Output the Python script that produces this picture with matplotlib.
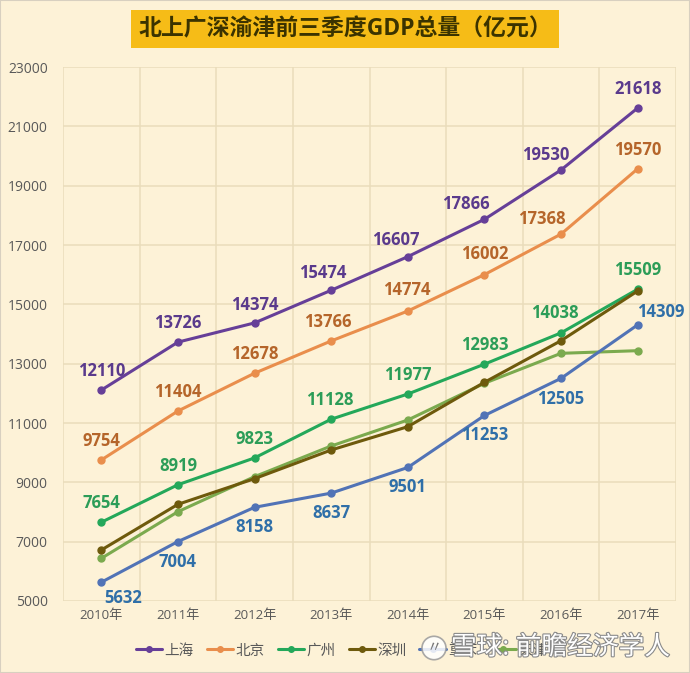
import matplotlib
matplotlib.use("Agg")
import matplotlib.pyplot as plt
import matplotlib.patheffects as pe
from matplotlib.patches import Circle

plt.rcParams['font.family'] = ['Open Sans', 'Noto Sans CJK SC', 'DejaVu Sans']

title = "北上广深渝津前三季度GDP总量（亿元）"
years = ["2010年", "2011年", "2012年", "2013年", "2014年", "2015年", "2016年", "2017年"]
shanghai = [12110, 13726, 14374, 15474, 16607, 17866, 19530, 21618]
beijing = [9754, 11404, 12678, 13766, 14774, 16002, 17368, 19570]
guangzhou = [7654, 8919, 9823, 11128, 11977, 12983, 14038, 15509]
shenzhen = [6719, 8259, 9124, 10090, 10876, 12372, 13775, 15450]
chongqing = [5632, 7004, 8158, 8637, 9501, 11253, 12505, 14309]
tianjin = [6438, 8011, 9191, 10225, 11101, 12339, 13349, 13438]
yticks = [5000, 7000, 9000, 11000, 13000, 15000, 17000, 19000, 21000, 23000]

BG = "#FDF2D7"
GRID = "#EADCBB"

fig = plt.figure(figsize=(6.9, 6.73), dpi=100, facecolor=BG)
ax = fig.add_axes([63/690, 1-601/673, (676-63)/690, (601-67)/673])
ax.set_facecolor(BG)

x = list(range(len(years)))

series = [
    ("上海", shanghai, "#663F98", "#5A3A8C", True),
    ("北京", beijing, "#E98E4C", "#B5652A", True),
    ("广州", guangzhou, "#24A85A", "#2C9D58", True),
    ("深圳", shenzhen, "#6E5A0C", None, False),
    ("重庆", chongqing, "#5173B6", "#2F6FA8", True),
    ("天津", tianjin, "#7BAA4E", None, False),
]

handles = {}
for name, vals, col, lcol, lab in series:
    z = 2.5 if name == "天津" else 3
    h, = ax.plot(x, vals, color=col, lw=2.2, marker='o', ms=5, zorder=z,
                 label=name, solid_capstyle='round')
    handles[name] = h

# label offsets in pixels (dx, dy)
offsets = {
    "上海": [(0, 19), (0, 19), (0, 18), (-8, 17), (-12, 17), (-19, 15), (-15, 15), (0, 19)],
    "北京": [(0, 19), (0, 19), (0, 19), (-3, 19), (-1, 21), (0, 21), (-19, 15), (0, 19)],
    "广州": [(0, 19), (0, 19), (0, 19), (-1, 19), (-0.5, 19), (0, 19), (-6, 20), (0, 19)],
    "重庆": [(22, -16), (0, -20), (0, -20), (0, -20), (0, -20), (0, -20), (0, -21), (23, 13)],
}

for name, vals, col, lcol, lab in series:
    if not lab:
        continue
    for i, v in enumerate(vals):
        dx, dy = offsets[name][i]
        ax.annotate(f"{v}", (i, v), xytext=(dx * 0.72, dy * 0.72), textcoords='offset points',
                    ha='center', va='center', fontsize=12, fontweight='bold', color=lcol,
                    zorder=5)

ax.set_xlim(-0.5, len(years) - 0.5)
ax.set_ylim(5000, 23000)
ax.set_yticks(yticks)
ax.set_yticklabels([str(t) for t in yticks])
ax.set_xticks(x)
ax.set_xticklabels(years)
ax.set_xticks([i - 0.5 for i in range(len(years) + 1)], minor=True)
ax.tick_params(axis='both', which='both', length=0, colors="#595959", labelsize=9.5)
ax.tick_params(axis='y', labelsize=10, pad=11)
ax.tick_params(axis='x', pad=6)
ax.grid(True, axis='y', which='major', color=GRID, lw=1.1)
ax.grid(True, axis='x', which='minor', color=GRID, lw=1.1)
ax.grid(False, axis='x', which='major')
ax.set_axisbelow(True)
for s in ax.spines.values():
    s.set_visible(False)

# title
fig.text(345/690, 1 - 29/673, title, ha='center', va='center', fontsize=16.5, fontweight='bold',
         color="#3B3300",
         bbox=dict(boxstyle='square,pad=0.3', facecolor="#F6BC17", edgecolor='none'))

# legend
names = ["上海", "北京", "广州", "深圳", "重庆", "天津"]
leg = fig.legend([handles[n] for n in names], names,
                 loc='center', bbox_to_anchor=(342/690, 1 - 651/673), ncol=6, frameon=False,
                 fontsize=10.5, handlelength=1.8, columnspacing=0.9, handletextpad=0.15,
                 labelcolor="#595959")
for lh in leg.legend_handles:
    lh.set_markersize(4)

# watermark
fig.patches.append(Circle((434/690, 1 - 648/673), 12/690, transform=fig.transFigure,
                          facecolor='white', edgecolor='#9a9a9a', lw=1.2, alpha=0.85, zorder=10))
fig.text(434/690, 1 - 648/673, "〃", ha='center', va='center', fontsize=11, color='#777777', zorder=11)
fig.text(451/690, 1 - 648/673, "雪球: 前瞻经济学人", ha='left', va='center', fontsize=18.5,
         color='white', zorder=11,
         path_effects=[pe.withStroke(linewidth=1.6, foreground='#8a8a8a')])

# light border
fig.patches.append(plt.Rectangle((0, 0), 1, 1, transform=fig.transFigure, fill=False,
                                 edgecolor='#d8d0c0', lw=1.5))

fig.savefig("out.png", dpi=100, facecolor=BG)
